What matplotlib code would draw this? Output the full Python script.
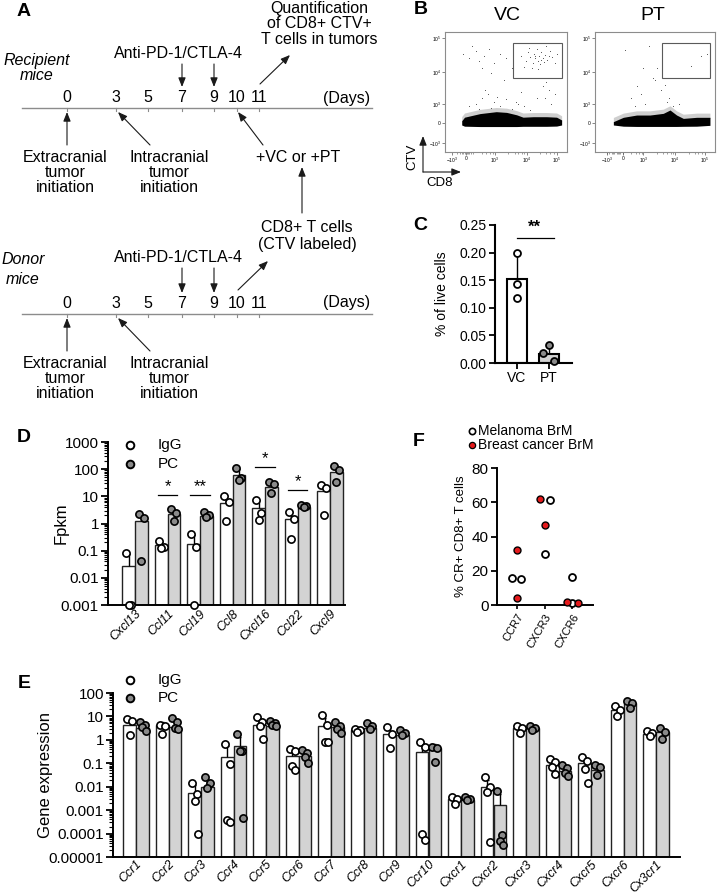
import numpy as np
import matplotlib
matplotlib.use('Agg')
import matplotlib.pyplot as plt
from matplotlib.patches import Rectangle
from matplotlib.ticker import FixedLocator, FuncFormatter, LogLocator, NullFormatter

plt.rcParams['font.family'] = ['Liberation Sans', 'DejaVu Sans']
plt.rcParams['mathtext.fontset'] = 'custom'
plt.rcParams['mathtext.rm'] = 'Liberation Sans'
plt.rcParams['mathtext.it'] = 'Liberation Sans:italic'

# ======================= DATA =======================
# Panel A (timeline)
timeline_days = [0, 3, 5, 7, 9, 10, 11]
treatment_days = [7, 9]

# Panel B (flow cytometry, normalised plot units 0..1)
vc_band_x = [0.137, 0.16, 0.287, 0.42, 0.505, 0.587, 0.64, 0.724, 0.833, 0.915, 0.956]
vc_band_top = [0.26, 0.29, 0.32, 0.336, 0.33, 0.31, 0.29, 0.294, 0.294, 0.29, 0.267]
vc_band_bot = [0.225, 0.215, 0.212, 0.212, 0.212, 0.212, 0.214, 0.214, 0.214, 0.216, 0.225]
pt_band_x = [0.153, 0.236, 0.347, 0.458, 0.569, 0.625, 0.68, 0.736, 0.847, 0.958]
pt_band_top = [0.253, 0.289, 0.308, 0.308, 0.322, 0.35, 0.308, 0.28, 0.289, 0.289]
pt_band_bot = [0.225, 0.215, 0.213, 0.213, 0.213, 0.213, 0.213, 0.214, 0.215, 0.222]
vc_dots_x = [0.62, 0.66, 0.68, 0.70, 0.72, 0.73, 0.74, 0.75, 0.76, 0.77, 0.78, 0.79, 0.80, 0.81,
             0.82, 0.84, 0.86, 0.88, 0.90, 0.71, 0.83, 0.65, 0.92, 0.76, 0.69, 0.74, 0.79, 0.85,
             0.20, 0.25, 0.28, 0.32, 0.36, 0.22, 0.40, 0.30, 0.15, 0.45, 0.50, 0.38, 0.48, 0.55,
             0.25, 0.30, 0.35, 0.40, 0.45, 0.50, 0.55, 0.60, 0.65, 0.28, 0.38, 0.70, 0.75, 0.80,
             0.78, 0.62, 0.20, 0.82, 0.85, 0.83, 0.87, 0.90, 0.33, 0.43, 0.58]
vc_dots_y = [0.80, 0.76, 0.83, 0.79, 0.74, 0.82, 0.78, 0.86, 0.76, 0.80, 0.73, 0.83, 0.78, 0.75,
             0.81, 0.77, 0.84, 0.79, 0.74, 0.70, 0.88, 0.71, 0.82, 0.69, 0.87, 0.80, 0.77, 0.80,
             0.78, 0.84, 0.76, 0.80, 0.86, 0.88, 0.74, 0.70, 0.82, 0.82, 0.78, 0.66, 0.60, 0.70,
             0.40, 0.45, 0.48, 0.42, 0.38, 0.44, 0.36, 0.40, 0.38, 0.36, 0.37, 0.35, 0.45, 0.55,
             0.62, 0.50, 0.38, 0.45, 0.52, 0.58, 0.40, 0.48, 0.52, 0.46, 0.42]
pt_dots_x = [0.80, 0.88, 0.93, 0.25, 0.45, 0.40, 0.35, 0.50, 0.55, 0.30, 0.60, 0.42, 0.65,
             0.48, 0.52, 0.58, 0.70, 0.38, 0.62, 0.33]
pt_dots_y = [0.72, 0.80, 0.82, 0.85, 0.88, 0.70, 0.55, 0.60, 0.52, 0.45, 0.42, 0.40, 0.38,
             0.62, 0.70, 0.56, 0.40, 0.48, 0.45, 0.38]

# Panel C
c_groups = ['VC', 'PT']
c_means = [0.153, 0.017]
c_points = [[0.200, 0.143, 0.118], [0.032, 0.018, 0.003]]
c_sig_level = 0.2265

# Panel D
d_genes = ['Cxcl13', 'Ccl11', 'Ccl19', 'Ccl8', 'Cxcl16', 'Ccl22', 'Cxcl9']
d_igg_mean = [0.028, 0.165, 0.18, 5.9, 3.7, 1.47, 15.5]
d_pc_mean = [1.2, 2.2, 1.95, 63, 23, 3.9, 78]
d_igg_points = [[0.085, 0.001, 0.001], [0.22, 0.14, 0.13], [0.42, 0.14, 0.001],
                [10.3, 6.3, 1.2], [7.6, 2.4, 1.4], [2.7, 1.5, 0.26], [26, 20, 2.1]]
d_pc_points = [[2.2, 1.6, 0.04], [3.4, 2.4, 1.2], [2.6, 2.1, 1.8],
               [107, 46, 40], [33, 29, 13.5], [4.7, 4.4, 4.0], [134, 93, 35]]
d_sig_genes = ['Ccl11', 'Ccl19', 'Cxcl16', 'Ccl22']
d_sig_marks = ['*', '**', '*', '*']
d_sig_levels = [11, 11, 117, 17]

# Panel E
e_genes = ['Ccr1', 'Ccr2', 'Ccr3', 'Ccr4', 'Ccr5', 'Ccr6', 'Ccr7', 'Ccr8', 'Ccr9', 'Ccr10',
           'Cxcr1', 'Cxcr2', 'Cxcr3', 'Cxcr4', 'Cxcr5', 'Cxcr6', 'Cx3cr1']
e_igg_mean = [4.5, 4.5, 0.0052, 0.19, 4.5, 0.2, 4.1, 2.6, 1.8, 0.3, 0.003, 0.0095, 3.3,
              0.083, 0.1, 18, 1.8]
e_pc_mean = [3.3, 3.6, 0.01, 0.55, 4.1, 0.2, 3.6, 3.3, 1.6, 0.47, 0.0028, 0.0017, 3.3,
             0.048, 0.05, 38, 2.2]
e_igg_points = [
    [7.4, 6.3, 1.6], [4.5, 4.0, 1.8], [0.014, 0.0049, 0.0025, 0.0001],
    [0.69, 0.091, 0.00038, 0.00032], [9.3, 5.7, 3.8, 1.1], [0.42, 0.34, 0.078, 0.05],
    [11, 4.5, 0.81, 0.8], [3.0, 2.7, 2.2], [3.6, 1.7, 0.47], [0.81, 0.5, 0.0001, 0.000054],
    [0.0036, 0.0031, 0.0019], [0.025, 0.0093, 0.0057, 0.000044], [4.1, 3.3, 1.9],
    [0.16, 0.11, 0.07, 0.034], [0.19, 0.12, 0.057, 0.0142], [29, 18, 10], [2.4, 2.0, 1.5]]
e_pc_points = [
    [5.7, 4.5, 3.6, 2.4], [8.2, 5.7, 3.3, 3.0], [0.026, 0.015, 0.0087],
    [1.7, 0.35, 0.33, 0.00047], [6.3, 5.0, 4.4, 3.8], [0.37, 0.28, 0.19, 0.1],
    [5.7, 3.8, 3.0, 1.9], [5.0, 4.1, 3.0], [2.6, 2.0, 1.6], [0.5, 0.43, 0.11],
    [0.0036, 0.0030, 0.0027], [0.0063, 0.00009, 0.00005, 0.000033], [4.1, 3.3, 2.6],
    [0.085, 0.061, 0.04, 0.029], [0.083, 0.067, 0.031], [44, 38, 23], [3.3, 2.2, 1.1]]

# Panel F
f_receptors = ['CCR7', 'CXCR3', 'CXCR6']
f_melanoma = [[16, 15], [61.5, 30], [16.5, 1]]
f_breast = [[32, 4], [62, 46.5], [1.5, 1]]

# ======================= LAYOUT =======================
W, H = 717, 896
fig = plt.figure(figsize=(W / 100, H / 100), dpi=100)

ov = fig.add_axes([0, 0, 1, 1])
ov.set_xlim(0, W)
ov.set_ylim(H, 0)
ov.axis('off')
ov.set_zorder(10)
ov.patch.set_alpha(0)


def ax_px(x0, y0, x1, y1):
    return fig.add_axes([x0 / W, 1 - y1 / H, (x1 - x0) / W, (y1 - y0) / H])


def txt(x, y, s, size=11.5, **kw):
    kw.setdefault('ha', 'center')
    kw.setdefault('va', 'center')
    ov.text(x, y, s, fontsize=size, **kw)


def arrow(x0, y0, x1, y1):
    ov.annotate('', xy=(x1, y1), xytext=(x0, y0),
                arrowprops=dict(arrowstyle='-|>,head_length=0.55,head_width=0.22',
                                color='#1a1a1a', lw=0.8, shrinkA=0, shrinkB=0,
                                mutation_scale=10))


# panel letters
for L, (x, y) in zip('ABCDEF', [(24, 11), (421, 9), (420, 225), (24, 437), (24, 683), (419, 442)]):
    txt(x, y, L, size=14, fontweight='bold')

# ---------------- Panel A ----------------
day_px = dict(zip(timeline_days, [67, 116, 148, 182, 214, 237, 259]))


def timeline(y_line, anti_y, lab_dy):
    ov.plot([22, 372], [y_line, y_line], color='#8c8c8c', lw=1.0)
    for d in timeline_days:
        ov.plot([day_px[d]] * 2, [y_line, y_line + 3], color='#8c8c8c', lw=0.8)
        txt(day_px[d], y_line - lab_dy, str(d), size=11.5)
    txt(347, y_line - lab_dy, '(Days)', size=11.5)
    txt(178, anti_y, 'Anti-PD-1/CTLA-4', size=11.5)
    for d in treatment_days:
        arrow(day_px[d], anti_y + 11, day_px[d], y_line - 21)
    arrow(day_px[0], y_line + 37, day_px[0], y_line + 4)
    arrow(150, y_line + 37, 118, y_line + 4)
    for i, s in enumerate(['Extracranial', 'tumor', 'initiation']):
        txt(65, y_line + 49 + 15.5 * i, s)
    for i, s in enumerate(['Intracranial', 'tumor', 'initiation']):
        txt(169, y_line + 49 + 15.5 * i, s)


timeline(108, 53, 10)
txt(37, 61, 'Recipient', style='italic')
txt(37, 76, 'mice', style='italic')
for i, s in enumerate(['Quantification', 'of CD8+ CTV+', 'T cells in tumors']):
    txt(319, 8 + 16 * i, s)
arrow(260, 84, 290, 55)
txt(298, 157, '+VC or +PT')
arrow(263, 145, day_px[10] + 1, 112)
arrow(302, 213, 302, 167)

timeline(314, 257, 11)
txt(23, 260, 'Donor', style='italic')
txt(23, 279, 'mice', style='italic')
txt(307, 228, 'CD8+ T cells')
txt(307, 244, '(CTV labeled)')
arrow(day_px[10] + 1, 290, 268, 261)

# ---------------- Panel B ----------------
txt(507, 15, 'VC', size=14)
txt(653, 15, 'PT', size=14)
arrow(423, 172, 423, 136)
arrow(423, 172, 461, 172)
ov.text(412, 157, 'CTV', fontsize=9.5, rotation=90, ha='center', va='center')
txt(440, 183, 'CD8', size=9.5)


def flow(ax, bx, btop, bbot, dx, dy, xt, yt, gate):
    ax.set_xlim(0, 1)
    ax.set_ylim(0, 1)
    btop = np.array(btop)
    ax.fill_between(bx, btop - 0.01, btop + 0.035, color='#777777', alpha=0.35, lw=0)
    ax.fill_between(bx, bbot, btop, color='black', lw=0)
    ax.scatter(dx, dy, s=0.4, c='#444444', lw=0)
    ax.add_patch(Rectangle((gate[0], gate[1]), gate[2] - gate[0], gate[3] - gate[1],
                           fill=False, ec='#5a5a5a', lw=0.8))
    for sp in ax.spines.values():
        sp.set_color('#8c8c8c')
        sp.set_linewidth(0.8)
    ax.set_xticks(xt)
    ax.set_xticklabels(['$-10^3$', '0', '$10^3$', '$10^4$', '$10^5$'])
    ax.set_yticks(yt)
    ax.set_yticklabels(['$10^5$', '$10^4$', '$10^3$', '0', '$-10^3$'])
    ax.set_xticks([0.1, 0.12, 0.14, 0.15, 0.16, 0.18, 0.19, 0.2, 0.21, 0.23, 0.3, 0.34, 0.37,
                   0.39, 0.52, 0.57, 0.6, 0.63, 0.65, 0.78, 0.83, 0.86, 0.89], minor=True)
    ax.tick_params(labelsize=3.5, length=2, width=0.5, color='#555555', pad=1)
    ax.tick_params(which='minor', length=1.2, width=0.4, color='#555555')


axb1 = ax_px(445, 32, 567, 152)
flow(axb1, vc_band_x, vc_band_top, vc_band_bot, vc_dots_x, vc_dots_y,
     [0.057, 0.172, 0.41, 0.672, 0.918], [0.95, 0.667, 0.40, 0.24, 0.075],
     (0.557, 0.617, 0.959, 0.908))
axb2 = ax_px(595, 32, 715, 152)
flow(axb2, pt_band_x, pt_band_top, pt_band_bot, pt_dots_x, pt_dots_y,
     [0.097, 0.236, 0.403, 0.667, 0.917], [0.95, 0.667, 0.40, 0.24, 0.075],
     (0.56, 0.617, 0.96, 0.908))

# common styling
PC_BAR = '#d3d3d3'
PC_PT = '#8a8a8a'


def style_axes(ax, lw=1.3):
    for s in ['top', 'right']:
        ax.spines[s].set_visible(False)
    for s in ['left', 'bottom']:
        ax.spines[s].set_linewidth(lw)


def add_points(ax, xc, pts, face, ms=5.2, pattern=(-0.07, 0.07, 0.0, 0.1)):
    for j, v in enumerate(pts):
        ax.plot(xc + pattern[j % len(pattern)], v, 'o', mfc=face, mec='black', ms=ms,
                mew=1.2, zorder=5, clip_on=False)


def add_err(ax, xc, mean, pts, cap=0.05):
    sd = np.std(pts, ddof=1)
    ax.vlines(xc, mean, mean + sd, color='black', lw=1.0, zorder=3)
    ax.hlines(mean + sd, xc - cap, xc + cap, color='black', lw=1.0, zorder=3)


def dec_fmt(v, p):
    e = int(round(np.log10(v)))
    return str(10 ** e) if e >= 0 else '0.' + '0' * (-e - 1) + '1'


# ---------------- Panel C ----------------
axc = ax_px(495, 225, 572, 363)
style_axes(axc, 1.5)
xc = np.arange(len(c_groups))
axc.bar(xc, c_means, width=0.625, color=['white', PC_BAR], edgecolor='black', lw=1.5, zorder=2)
c_faces = ['white', PC_PT]
c_offsets = [[0, 0, 0], [0, -0.19, 0.16]]
for i in range(2):
    add_err(axc, xc[i], c_means[i], c_points[i], cap=0.0)
    for j, v in enumerate(c_points[i]):
        axc.plot(xc[i] + c_offsets[i][j], v, 'o', mfc=c_faces[i], mec='black', ms=5,
                 mew=1.3, zorder=5, clip_on=False)
axc.set_xlim(-0.6875, 1.72)
axc.set_ylim(0, 0.25)
axc.yaxis.set_major_locator(FixedLocator([0, 0.05, 0.10, 0.15, 0.20, 0.25]))
axc.yaxis.set_major_formatter(FuncFormatter(lambda v, p: '%.2f' % v))
axc.set_xticks(xc)
axc.set_xticklabels(c_groups)
axc.tick_params(labelsize=10, length=4, width=1.3, pad=2)
axc.set_ylabel('% of live cells', fontsize=10)
axc.yaxis.set_label_coords(-0.60, 0.5)
axc.plot([0, 1.15], [c_sig_level, c_sig_level], color='black', lw=0.9, clip_on=False)
axc.text(0.56, 0.246, '**', fontsize=12, fontweight='bold', ha='center', va='center')


# ---------------- Panels D / E ----------------
def log_bar_panel(ax, genes, igg_m, pc_m, igg_p, pc_p, ymin, ymax, lblsize):
    style_axes(ax, 1.4)
    x = np.arange(len(genes))
    w = 0.385
    ax.set_yscale('log')
    ax.bar(x - w / 2, np.array(igg_m) - ymin, bottom=ymin, width=w, color='white',
           edgecolor='#222222', lw=1.0, zorder=2)
    ax.bar(x + w / 2, np.array(pc_m) - ymin, bottom=ymin, width=w, color=PC_BAR,
           edgecolor='#222222', lw=1.0, zorder=2)
    for i in range(len(genes)):
        add_err(ax, x[i] - w / 2, igg_m[i], igg_p[i])
        add_err(ax, x[i] + w / 2, pc_m[i], pc_p[i])
        add_points(ax, x[i] - w / 2, igg_p[i], 'white')
        add_points(ax, x[i] + w / 2, pc_p[i], PC_PT)
    ax.set_ylim(ymin, ymax)
    ax.yaxis.set_major_locator(LogLocator(base=10, numticks=20))
    ax.yaxis.set_minor_locator(LogLocator(base=10, subs=np.arange(2, 10), numticks=20))
    ax.yaxis.set_minor_formatter(NullFormatter())
    ax.yaxis.set_major_formatter(FuncFormatter(dec_fmt))
    ax.set_xticks(x)
    ax.set_xticklabels(genes, rotation=45, ha='right', rotation_mode='anchor',
                       style='italic', fontsize=lblsize)
    ax.tick_params(axis='y', labelsize=11, length=5, width=1.3, pad=1.5)
    ax.tick_params(axis='y', which='minor', length=3, width=0.8)
    ax.tick_params(axis='x', length=0, pad=2)
    return x, w


axd = ax_px(108, 442, 345, 605)
xd, wd = log_bar_panel(axd, d_genes, d_igg_mean, d_pc_mean, d_igg_points, d_pc_points,
                       0.001, 1000, 9)
axd.set_xlim((108 - 135) / 32.5, (345 - 135) / 32.5)
axd.set_ylabel('Fpkm', fontsize=12)
axd.yaxis.set_label_coords(-0.165, 0.5)
for g, m, lv in zip(d_sig_genes, d_sig_marks, d_sig_levels):
    i = d_genes.index(g)
    axd.plot([i - 0.3, i + 0.3], [lv, lv], color='black', lw=0.9)
    axd.text(i, lv * 1.1, m, fontsize=12, ha='center', va='bottom')

axe = ax_px(113, 693, 680, 857)
xe, we = log_bar_panel(axe, e_genes, e_igg_mean, e_pc_mean, e_igg_points, e_pc_points,
                       0.00001, 100, 9)
axe.tick_params(axis='x', pad=1)
axe.set_xlim((113 - 136) / 32.5, (680 - 136) / 32.5)
axe.set_ylabel('Gene expression', fontsize=12)
axe.yaxis.set_label_coords(-0.105, 0.5)

# legends D / E
for (yi, yp) in [(445, 464), (680, 698)]:
    ov.plot([130], [yi], 'o', mfc='white', mec='black', ms=5.5, mew=1.4)
    ov.plot([130], [yp], 'o', mfc=PC_PT, mec='black', ms=5.5, mew=1.4)
    txt(158, yi, 'IgG', size=11, ha='left')
    txt(158, yp, 'PC', size=11, ha='left')

# ---------------- Panel F ----------------
axf = ax_px(497, 468, 593, 605)
style_axes(axf, 1.4)
RED = '#e41a1c'
f_mel_off = [[-0.19, 0.13], [0.18, 0.0], [0.0, 0.0]]
f_br_off = [[0.0, 0.0], [-0.15, 0.0], [-0.2, 0.22]]
for i in range(len(f_receptors)):
    for j, v in enumerate(f_melanoma[i]):
        axf.plot(i + f_mel_off[i][j], v, 'o', mfc='white', mec='black', ms=5, mew=1.3,
                 zorder=4, clip_on=False)
    for j, v in enumerate(f_breast[i]):
        axf.plot(i + f_br_off[i][j], v, 'o', mfc=RED, mec='black', ms=5, mew=1.0,
                 zorder=5, clip_on=False)
axf.set_xlim(-0.727, 2.76)
axf.set_ylim(0, 80)
axf.set_yticks([0, 20, 40, 60, 80])
axf.set_xticks(range(len(f_receptors)))
axf.set_xticklabels(f_receptors, rotation=60, ha='right', rotation_mode='anchor', fontsize=8)
axf.tick_params(axis='y', labelsize=11, length=4, width=1.3, pad=2)
axf.tick_params(axis='x', length=3, width=1.2, pad=2)
axf.set_ylabel('% CR+ CD8+ T cells', fontsize=9.5)
axf.yaxis.set_label_coords(-0.31, 0.5)
ov.plot([472], [431], 'o', mfc='white', mec='black', ms=4.5, mew=1.2)
ov.plot([472], [445], 'o', mfc=RED, mec='black', ms=4.5, mew=0.9)
txt(478, 431, 'Melanoma BrM', size=10, ha='left')
txt(478, 445, 'Breast cancer BrM', size=10, ha='left')

fig.savefig('out.png', dpi=100)
